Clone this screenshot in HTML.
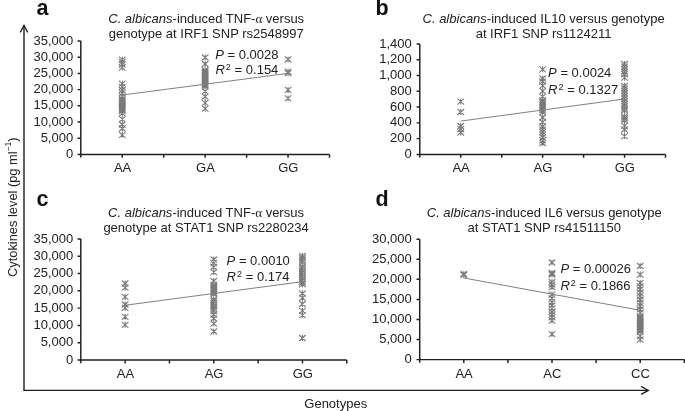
<!DOCTYPE html><html><head><meta charset="utf-8"><style>html,body{margin:0;padding:0;background:#fff;width:685px;height:411px;overflow:hidden}svg{display:block;filter:grayscale(1)}text{font-family:"Liberation Sans",sans-serif}</style></head><body>
<svg width="685" height="411" viewBox="0 0 685 411">
<rect width="685" height="411" fill="#fff"/>
<path d="M24 25.3V390.4H648.3" fill="none" stroke="#1e1e1e" stroke-width="1.4"/>
<path d="M20.3 32.4L24 25.3L27.7 32.4" fill="none" stroke="#1e1e1e" stroke-width="1.3" stroke-linejoin="miter"/>
<path d="M641.1 386.4L648.4 390.4L641.1 394.4" fill="none" stroke="#1e1e1e" stroke-width="1.3"/>
<text x="304.3" y="408.0" font-size="13" fill="#222">Genotypes</text>
<text transform="translate(16.6 277.0) rotate(-90)" font-size="12.85" fill="#222">Cytokines level (pg ml<tspan font-size="8.5" dy="-5.2">−1</tspan><tspan dy="5.2">)</tspan></text>
<path d="M80.80 41.00V157.60M77.60 154.40H329.50M77.60 154.40H80.80M77.60 138.20H80.80M77.60 122.00H80.80M77.60 105.80H80.80M77.60 89.60H80.80M77.60 73.40H80.80M77.60 57.20H80.80M77.60 41.00H80.80M122.25 154.40V157.80M163.70 154.40V157.80M205.15 154.40V157.80M246.60 154.40V157.80M288.05 154.40V157.80M329.50 154.40V157.80" fill="none" stroke="#1e1e1e" stroke-width="1.45"/>
<text x="73.20" y="158.00" font-size="13" text-anchor="end" fill="#222">0</text>
<text x="73.20" y="141.80" font-size="13" text-anchor="end" fill="#222">5,000</text>
<text x="73.20" y="125.60" font-size="13" text-anchor="end" fill="#222">10,000</text>
<text x="73.20" y="109.40" font-size="13" text-anchor="end" fill="#222">15,000</text>
<text x="73.20" y="93.20" font-size="13" text-anchor="end" fill="#222">20,000</text>
<text x="73.20" y="77.00" font-size="13" text-anchor="end" fill="#222">25,000</text>
<text x="73.20" y="60.80" font-size="13" text-anchor="end" fill="#222">30,000</text>
<text x="73.20" y="44.60" font-size="13" text-anchor="end" fill="#222">35,000</text>
<text x="122.55" y="172.30" font-size="13" text-anchor="middle" fill="#222">AA</text>
<text x="205.45" y="172.30" font-size="13" text-anchor="middle" fill="#222">GA</text>
<text x="288.35" y="172.30" font-size="13" text-anchor="middle" fill="#222">GG</text>
<text x="36.60" y="15.30" font-size="21.5" font-weight="bold" fill="#111">a</text>
<text x="206.20" y="22.60" font-size="13" text-anchor="middle" fill="#222"><tspan font-style="italic">C. albicans</tspan>-induced TNF-<tspan style="font-family:Liberation Serif">α</tspan> versus</text>
<text x="206.20" y="38.10" font-size="13" text-anchor="middle" fill="#222">genotype at IRF1 SNP rs2548997</text>
<text x="215.20" y="58.70" font-size="13" fill="#222" xml:space="preserve"><tspan font-style="italic">P</tspan> = 0.0028</text>
<text x="215.40" y="73.60" font-size="13" fill="#222" font-style="italic">R</text>
<text x="225.80" y="69.60" font-size="9" fill="#222">2</text>
<text x="231.00" y="73.60" font-size="13" fill="#222" xml:space="preserve"> = 0.154</text>
<path d="M118.95 56.60L125.55 62.60M125.55 56.60L118.95 62.60M122.25 56.60L122.25 62.60M118.95 59.00L125.55 65.00M125.55 59.00L118.95 65.00M122.25 59.00L122.25 65.00M118.95 61.50L125.55 67.50M125.55 61.50L118.95 67.50M122.25 61.50L122.25 67.50M118.95 64.60L125.55 70.60M125.55 64.60L118.95 70.60M122.25 64.60L122.25 70.60M118.95 80.60L125.55 86.60M125.55 80.60L118.95 86.60M122.25 80.60L122.25 86.60M118.95 83.80L125.55 89.80M125.55 83.80L118.95 89.80M122.25 83.80L122.25 89.80M118.95 87.00L125.55 93.00M125.55 87.00L118.95 93.00M122.25 87.00L122.25 93.00M118.95 90.20L125.55 96.20M125.55 90.20L118.95 96.20M122.25 90.20L122.25 96.20M118.95 93.40L125.55 99.40M125.55 93.40L118.95 99.40M122.25 93.40L122.25 99.40M118.95 96.00L125.55 102.00M125.55 96.00L118.95 102.00M122.25 96.00L122.25 102.00M118.95 97.50L125.55 103.50M125.55 97.50L118.95 103.50M122.25 97.50L122.25 103.50M118.95 99.00L125.55 105.00M125.55 99.00L118.95 105.00M122.25 99.00L122.25 105.00M118.95 100.50L125.55 106.50M125.55 100.50L118.95 106.50M122.25 100.50L122.25 106.50M118.95 102.00L125.55 108.00M125.55 102.00L118.95 108.00M122.25 102.00L122.25 108.00M118.95 103.50L125.55 109.50M125.55 103.50L118.95 109.50M122.25 103.50L122.25 109.50M118.95 105.00L125.55 111.00M125.55 105.00L118.95 111.00M122.25 105.00L122.25 111.00M118.95 106.50L125.55 112.50M125.55 106.50L118.95 112.50M122.25 106.50L122.25 112.50M118.95 108.00L125.55 114.00M125.55 108.00L118.95 114.00M122.25 108.00L122.25 114.00M118.95 110.40L125.55 116.40M125.55 110.40L118.95 116.40M122.25 110.40L122.25 116.40M118.95 116.20L125.55 122.20M125.55 116.20L118.95 122.20M122.25 116.20L122.25 122.20M118.95 121.50L125.55 127.50M125.55 121.50L118.95 127.50M122.25 121.50L122.25 127.50M118.95 125.50L125.55 131.50M125.55 125.50L118.95 131.50M122.25 125.50L122.25 131.50M118.95 131.80L125.55 137.80M125.55 131.80L118.95 137.80M122.25 131.80L122.25 137.80M201.85 54.50L208.45 60.50M208.45 54.50L201.85 60.50M205.15 54.50L205.15 60.50M201.85 61.00L208.45 67.00M208.45 61.00L201.85 67.00M205.15 61.00L205.15 67.00M201.85 67.20L208.45 73.20M208.45 67.20L201.85 73.20M205.15 67.20L205.15 73.20M201.85 68.50L208.45 74.50M208.45 68.50L201.85 74.50M205.15 68.50L205.15 74.50M201.85 70.00L208.45 76.00M208.45 70.00L201.85 76.00M205.15 70.00L205.15 76.00M201.85 71.50L208.45 77.50M208.45 71.50L201.85 77.50M205.15 71.50L205.15 77.50M201.85 73.00L208.45 79.00M208.45 73.00L201.85 79.00M205.15 73.00L205.15 79.00M201.85 74.50L208.45 80.50M208.45 74.50L201.85 80.50M205.15 74.50L205.15 80.50M201.85 76.00L208.45 82.00M208.45 76.00L201.85 82.00M205.15 76.00L205.15 82.00M201.85 77.50L208.45 83.50M208.45 77.50L201.85 83.50M205.15 77.50L205.15 83.50M201.85 79.00L208.45 85.00M208.45 79.00L201.85 85.00M205.15 79.00L205.15 85.00M201.85 80.50L208.45 86.50M208.45 80.50L201.85 86.50M205.15 80.50L205.15 86.50M201.85 82.00L208.45 88.00M208.45 82.00L201.85 88.00M205.15 82.00L205.15 88.00M201.85 83.70L208.45 89.70M208.45 83.70L201.85 89.70M205.15 83.70L205.15 89.70M201.85 88.30L208.45 94.30M208.45 88.30L201.85 94.30M205.15 88.30L205.15 94.30M201.85 93.70L208.45 99.70M208.45 93.70L201.85 99.70M205.15 93.70L205.15 99.70M201.85 99.80L208.45 105.80M208.45 99.80L201.85 105.80M205.15 99.80L205.15 105.80M201.85 105.70L208.45 111.70M208.45 105.70L201.85 111.70M205.15 105.70L205.15 111.70M284.75 56.50L291.35 62.50M291.35 56.50L284.75 62.50M288.05 56.50L288.05 62.50M284.75 68.60L291.35 74.60M291.35 68.60L284.75 74.60M288.05 68.60L288.05 74.60M284.75 70.20L291.35 76.20M291.35 70.20L284.75 76.20M288.05 70.20L288.05 76.20M284.75 86.90L291.35 92.90M291.35 86.90L284.75 92.90M288.05 86.90L288.05 92.90M284.75 95.40L291.35 101.40M291.35 95.40L284.75 101.40M288.05 95.40L288.05 101.40" fill="none" stroke="#7a7a7a" stroke-width="1.05"/>
<path d="M122.20 95.00L288.10 73.40" stroke="#808080" stroke-width="1"/>
<path d="M419.80 44.01V157.60M416.60 154.40H665.50M416.60 154.40H419.80M416.60 138.63H419.80M416.60 122.86H419.80M416.60 107.09H419.80M416.60 91.32H419.80M416.60 75.55H419.80M416.60 59.78H419.80M416.60 44.01H419.80M460.75 154.40V157.80M501.70 154.40V157.80M542.65 154.40V157.80M583.60 154.40V157.80M624.55 154.40V157.80M665.50 154.40V157.80" fill="none" stroke="#1e1e1e" stroke-width="1.45"/>
<text x="411.80" y="158.00" font-size="13" text-anchor="end" fill="#222">0</text>
<text x="411.80" y="142.23" font-size="13" text-anchor="end" fill="#222">200</text>
<text x="411.80" y="126.46" font-size="13" text-anchor="end" fill="#222">400</text>
<text x="411.80" y="110.69" font-size="13" text-anchor="end" fill="#222">600</text>
<text x="411.80" y="94.92" font-size="13" text-anchor="end" fill="#222">800</text>
<text x="411.80" y="79.15" font-size="13" text-anchor="end" fill="#222">1,000</text>
<text x="411.80" y="63.38" font-size="13" text-anchor="end" fill="#222">1,200</text>
<text x="411.80" y="47.61" font-size="13" text-anchor="end" fill="#222">1,400</text>
<text x="461.05" y="172.30" font-size="13" text-anchor="middle" fill="#222">AA</text>
<text x="542.95" y="172.30" font-size="13" text-anchor="middle" fill="#222">AG</text>
<text x="624.85" y="172.30" font-size="13" text-anchor="middle" fill="#222">GG</text>
<text x="375.50" y="15.30" font-size="21.5" font-weight="bold" fill="#111">b</text>
<text x="543.60" y="22.70" font-size="13" text-anchor="middle" fill="#222"><tspan font-style="italic">C. albicans</tspan>-induced IL10 versus genotype</text>
<text x="543.60" y="37.90" font-size="13" text-anchor="middle" fill="#222">at IRF1 SNP rs1124211</text>
<text x="548.10" y="77.30" font-size="13" fill="#222" xml:space="preserve"><tspan font-style="italic">P</tspan> = 0.0024</text>
<text x="548.10" y="93.60" font-size="13" fill="#222" font-style="italic">R</text>
<text x="558.50" y="89.60" font-size="9" fill="#222">2</text>
<text x="563.70" y="93.60" font-size="13" fill="#222" xml:space="preserve"> = 0.1327</text>
<path d="M457.45 98.60L464.05 104.60M464.05 98.60L457.45 104.60M460.75 98.60L460.75 104.60M457.45 109.00L464.05 115.00M464.05 109.00L457.45 115.00M460.75 109.00L460.75 115.00M457.45 123.00L464.05 129.00M464.05 123.00L457.45 129.00M460.75 123.00L460.75 129.00M457.45 126.00L464.05 132.00M464.05 126.00L457.45 132.00M460.75 126.00L460.75 132.00M457.45 129.50L464.05 135.50M464.05 129.50L457.45 135.50M460.75 129.50L460.75 135.50M539.35 66.30L545.95 72.30M545.95 66.30L539.35 72.30M542.65 66.30L542.65 72.30M539.35 75.50L545.95 81.50M545.95 75.50L539.35 81.50M542.65 75.50L542.65 81.50M539.35 78.50L545.95 84.50M545.95 78.50L539.35 84.50M542.65 78.50L542.65 84.50M539.35 82.70L545.95 88.70M545.95 82.70L539.35 88.70M542.65 82.70L542.65 88.70M539.35 88.20L545.95 94.20M545.95 88.20L539.35 94.20M542.65 88.20L542.65 94.20M539.35 93.70L545.95 99.70M545.95 93.70L539.35 99.70M542.65 93.70L542.65 99.70M539.35 97.30L545.95 103.30M545.95 97.30L539.35 103.30M542.65 97.30L542.65 103.30M539.35 99.00L545.95 105.00M545.95 99.00L539.35 105.00M542.65 99.00L542.65 105.00M539.35 100.70L545.95 106.70M545.95 100.70L539.35 106.70M542.65 100.70L542.65 106.70M539.35 102.40L545.95 108.40M545.95 102.40L539.35 108.40M542.65 102.40L542.65 108.40M539.35 104.00L545.95 110.00M545.95 104.00L539.35 110.00M542.65 104.00L542.65 110.00M539.35 105.70L545.95 111.70M545.95 105.70L539.35 111.70M542.65 105.70L542.65 111.70M539.35 107.40L545.95 113.40M545.95 107.40L539.35 113.40M542.65 107.40L542.65 113.40M539.35 109.40L545.95 115.40M545.95 109.40L539.35 115.40M542.65 109.40L542.65 115.40M539.35 114.50L545.95 120.50M545.95 114.50L539.35 120.50M542.65 114.50L542.65 120.50M539.35 119.20L545.95 125.20M545.95 119.20L539.35 125.20M542.65 119.20L542.65 125.20M539.35 123.50L545.95 129.50M545.95 123.50L539.35 129.50M542.65 123.50L542.65 129.50M539.35 126.30L545.95 132.30M545.95 126.30L539.35 132.30M542.65 126.30L542.65 132.30M539.35 129.00L545.95 135.00M545.95 129.00L539.35 135.00M542.65 129.00L542.65 135.00M539.35 131.80L545.95 137.80M545.95 131.80L539.35 137.80M542.65 131.80L542.65 137.80M539.35 134.60L545.95 140.60M545.95 134.60L539.35 140.60M542.65 134.60L542.65 140.60M539.35 137.40L545.95 143.40M545.95 137.40L539.35 143.40M542.65 137.40L542.65 143.40M539.35 140.00L545.95 146.00M545.95 140.00L539.35 146.00M542.65 140.00L542.65 146.00M621.25 61.00L627.85 67.00M627.85 61.00L621.25 67.00M624.55 61.00L624.55 67.00M621.25 63.50L627.85 69.50M627.85 63.50L621.25 69.50M624.55 63.50L624.55 69.50M621.25 66.00L627.85 72.00M627.85 66.00L621.25 72.00M624.55 66.00L624.55 72.00M621.25 68.50L627.85 74.50M627.85 68.50L621.25 74.50M624.55 68.50L624.55 74.50M621.25 71.00L627.85 77.00M627.85 71.00L621.25 77.00M624.55 71.00L624.55 77.00M621.25 74.70L627.85 80.70M627.85 74.70L621.25 80.70M624.55 74.70L624.55 80.70M621.25 83.00L627.85 89.00M627.85 83.00L621.25 89.00M624.55 83.00L624.55 89.00M621.25 85.50L627.85 91.50M627.85 85.50L621.25 91.50M624.55 85.50L624.55 91.50M621.25 88.00L627.85 94.00M627.85 88.00L621.25 94.00M624.55 88.00L624.55 94.00M621.25 90.50L627.85 96.50M627.85 90.50L621.25 96.50M624.55 90.50L624.55 96.50M621.25 93.00L627.85 99.00M627.85 93.00L621.25 99.00M624.55 93.00L624.55 99.00M621.25 95.50L627.85 101.50M627.85 95.50L621.25 101.50M624.55 95.50L624.55 101.50M621.25 98.00L627.85 104.00M627.85 98.00L621.25 104.00M624.55 98.00L624.55 104.00M621.25 100.50L627.85 106.50M627.85 100.50L621.25 106.50M624.55 100.50L624.55 106.50M621.25 103.00L627.85 109.00M627.85 103.00L621.25 109.00M624.55 103.00L624.55 109.00M621.25 105.50L627.85 111.50M627.85 105.50L621.25 111.50M624.55 105.50L624.55 111.50M621.25 107.50L627.85 113.50M627.85 107.50L621.25 113.50M624.55 107.50L624.55 113.50M621.25 113.50L627.85 119.50M627.85 113.50L621.25 119.50M624.55 113.50L624.55 119.50M621.25 115.50L627.85 121.50M627.85 115.50L621.25 121.50M624.55 115.50L624.55 121.50M621.25 117.50L627.85 123.50M627.85 117.50L621.25 123.50M624.55 117.50L624.55 123.50M621.25 122.90L627.85 128.90M627.85 122.90L621.25 128.90M624.55 122.90L624.55 128.90M621.25 126.50L627.85 132.50M627.85 126.50L621.25 132.50M624.55 126.50L624.55 132.50M621.25 133.10L627.85 139.10M627.85 133.10L621.25 139.10M624.55 133.10L624.55 139.10" fill="none" stroke="#7a7a7a" stroke-width="1.05"/>
<path d="M460.60 121.10L624.30 99.00" stroke="#808080" stroke-width="1"/>
<path d="M80.80 238.90V363.20M77.60 360.00H346.78M77.60 360.00H80.80M77.60 342.70H80.80M77.60 325.40H80.80M77.60 308.10H80.80M77.60 290.80H80.80M77.60 273.50H80.80M77.60 256.20H80.80M77.60 238.90H80.80M125.13 360.00V363.40M169.46 360.00V363.40M213.79 360.00V363.40M258.12 360.00V363.40M302.45 360.00V363.40M346.78 360.00V363.40" fill="none" stroke="#1e1e1e" stroke-width="1.45"/>
<text x="73.20" y="363.60" font-size="13" text-anchor="end" fill="#222">0</text>
<text x="73.20" y="346.30" font-size="13" text-anchor="end" fill="#222">5,000</text>
<text x="73.20" y="329.00" font-size="13" text-anchor="end" fill="#222">10,000</text>
<text x="73.20" y="311.70" font-size="13" text-anchor="end" fill="#222">15,000</text>
<text x="73.20" y="294.40" font-size="13" text-anchor="end" fill="#222">20,000</text>
<text x="73.20" y="277.10" font-size="13" text-anchor="end" fill="#222">25,000</text>
<text x="73.20" y="259.80" font-size="13" text-anchor="end" fill="#222">30,000</text>
<text x="73.20" y="242.50" font-size="13" text-anchor="end" fill="#222">35,000</text>
<text x="125.43" y="378.40" font-size="13" text-anchor="middle" fill="#222">AA</text>
<text x="214.09" y="378.40" font-size="13" text-anchor="middle" fill="#222">AG</text>
<text x="302.75" y="378.40" font-size="13" text-anchor="middle" fill="#222">GG</text>
<text x="36.40" y="206.20" font-size="21.5" font-weight="bold" fill="#111">c</text>
<text x="206.00" y="216.80" font-size="13" text-anchor="middle" fill="#222"><tspan font-style="italic">C. albicans</tspan>-induced TNF-<tspan style="font-family:Liberation Serif">α</tspan> versus</text>
<text x="206.00" y="231.50" font-size="13" text-anchor="middle" fill="#222">genotype at STAT1 SNP rs2280234</text>
<text x="226.60" y="264.90" font-size="13" fill="#222" xml:space="preserve"><tspan font-style="italic">P</tspan> = 0.0010</text>
<text x="226.60" y="281.40" font-size="13" fill="#222" font-style="italic">R</text>
<text x="237.00" y="277.40" font-size="9" fill="#222">2</text>
<text x="242.20" y="281.40" font-size="13" fill="#222" xml:space="preserve"> = 0.174</text>
<path d="M121.83 280.50L128.43 286.50M128.43 280.50L121.83 286.50M125.13 280.50L125.13 286.50M121.83 284.70L128.43 290.70M128.43 284.70L121.83 290.70M125.13 284.70L125.13 290.70M121.83 293.90L128.43 299.90M128.43 293.90L121.83 299.90M125.13 293.90L125.13 299.90M121.83 301.50L128.43 307.50M128.43 301.50L121.83 307.50M125.13 301.50L125.13 307.50M121.83 304.80L128.43 310.80M128.43 304.80L121.83 310.80M125.13 304.80L125.13 310.80M121.83 313.80L128.43 319.80M128.43 313.80L121.83 319.80M125.13 313.80L125.13 319.80M121.83 321.80L128.43 327.80M128.43 321.80L121.83 327.80M125.13 321.80L125.13 327.80M210.49 256.50L217.09 262.50M217.09 256.50L210.49 262.50M213.79 256.50L213.79 262.50M210.49 260.00L217.09 266.00M217.09 260.00L210.49 266.00M213.79 260.00L213.79 266.00M210.49 264.00L217.09 270.00M217.09 264.00L210.49 270.00M213.79 264.00L213.79 270.00M210.49 269.20L217.09 275.20M217.09 269.20L210.49 275.20M213.79 269.20L213.79 275.20M210.49 278.00L217.09 284.00M217.09 278.00L210.49 284.00M213.79 278.00L213.79 284.00M210.49 282.00L217.09 288.00M217.09 282.00L210.49 288.00M213.79 282.00L213.79 288.00M210.49 283.50L217.09 289.50M217.09 283.50L210.49 289.50M213.79 283.50L213.79 289.50M210.49 285.00L217.09 291.00M217.09 285.00L210.49 291.00M213.79 285.00L213.79 291.00M210.49 286.50L217.09 292.50M217.09 286.50L210.49 292.50M213.79 286.50L213.79 292.50M210.49 288.00L217.09 294.00M217.09 288.00L210.49 294.00M213.79 288.00L213.79 294.00M210.49 289.50L217.09 295.50M217.09 289.50L210.49 295.50M213.79 289.50L213.79 295.50M210.49 291.00L217.09 297.00M217.09 291.00L210.49 297.00M213.79 291.00L213.79 297.00M210.49 296.30L217.09 302.30M217.09 296.30L210.49 302.30M213.79 296.30L213.79 302.30M210.49 298.00L217.09 304.00M217.09 298.00L210.49 304.00M213.79 298.00L213.79 304.00M210.49 300.00L217.09 306.00M217.09 300.00L210.49 306.00M213.79 300.00L213.79 306.00M210.49 302.00L217.09 308.00M217.09 302.00L210.49 308.00M213.79 302.00L213.79 308.00M210.49 304.00L217.09 310.00M217.09 304.00L210.49 310.00M213.79 304.00L213.79 310.00M210.49 306.00L217.09 312.00M217.09 306.00L210.49 312.00M213.79 306.00L213.79 312.00M210.49 308.00L217.09 314.00M217.09 308.00L210.49 314.00M213.79 308.00L213.79 314.00M210.49 311.50L217.09 317.50M217.09 311.50L210.49 317.50M213.79 311.50L213.79 317.50M210.49 315.50L217.09 321.50M217.09 315.50L210.49 321.50M213.79 315.50L213.79 321.50M210.49 320.60L217.09 326.60M217.09 320.60L210.49 326.60M213.79 320.60L213.79 326.60M210.49 328.50L217.09 334.50M217.09 328.50L210.49 334.50M213.79 328.50L213.79 334.50M299.15 253.00L305.75 259.00M305.75 253.00L299.15 259.00M302.45 253.00L302.45 259.00M299.15 255.00L305.75 261.00M305.75 255.00L299.15 261.00M302.45 255.00L302.45 261.00M299.15 257.00L305.75 263.00M305.75 257.00L299.15 263.00M302.45 257.00L302.45 263.00M299.15 259.00L305.75 265.00M305.75 259.00L299.15 265.00M302.45 259.00L302.45 265.00M299.15 263.50L305.75 269.50M305.75 263.50L299.15 269.50M302.45 263.50L302.45 269.50M299.15 265.50L305.75 271.50M305.75 265.50L299.15 271.50M302.45 265.50L302.45 271.50M299.15 267.50L305.75 273.50M305.75 267.50L299.15 273.50M302.45 267.50L302.45 273.50M299.15 269.50L305.75 275.50M305.75 269.50L299.15 275.50M302.45 269.50L302.45 275.50M299.15 271.50L305.75 277.50M305.75 271.50L299.15 277.50M302.45 271.50L302.45 277.50M299.15 273.50L305.75 279.50M305.75 273.50L299.15 279.50M302.45 273.50L302.45 279.50M299.15 275.50L305.75 281.50M305.75 275.50L299.15 281.50M302.45 275.50L302.45 281.50M299.15 277.50L305.75 283.50M305.75 277.50L299.15 283.50M302.45 277.50L302.45 283.50M299.15 279.50L305.75 285.50M305.75 279.50L299.15 285.50M302.45 279.50L302.45 285.50M299.15 281.30L305.75 287.30M305.75 281.30L299.15 287.30M302.45 281.30L302.45 287.30M299.15 290.50L305.75 296.50M305.75 290.50L299.15 296.50M302.45 290.50L302.45 296.50M299.15 294.80L305.75 300.80M305.75 294.80L299.15 300.80M302.45 294.80L302.45 300.80M299.15 301.00L305.75 307.00M305.75 301.00L299.15 307.00M302.45 301.00L302.45 307.00M299.15 307.80L305.75 313.80M305.75 307.80L299.15 313.80M302.45 307.80L302.45 313.80M299.15 312.20L305.75 318.20M305.75 312.20L299.15 318.20M302.45 312.20L302.45 318.20M299.15 335.00L305.75 341.00M305.75 335.00L299.15 341.00M302.45 335.00L302.45 341.00" fill="none" stroke="#7a7a7a" stroke-width="1.05"/>
<path d="M125.70 305.20L302.80 281.60" stroke="#808080" stroke-width="1"/>
<path d="M419.70 239.20V362.80M416.50 359.60H684.30M416.50 359.60H419.70M416.50 339.53H419.70M416.50 319.47H419.70M416.50 299.40H419.70M416.50 279.33H419.70M416.50 259.27H419.70M416.50 239.20H419.70M463.80 359.60V363.00M507.90 359.60V363.00M552.00 359.60V363.00M596.10 359.60V363.00M640.20 359.60V363.00M684.30 359.60V363.00" fill="none" stroke="#1e1e1e" stroke-width="1.45"/>
<text x="411.80" y="363.20" font-size="13" text-anchor="end" fill="#222">0</text>
<text x="411.80" y="343.13" font-size="13" text-anchor="end" fill="#222">5,000</text>
<text x="411.80" y="323.07" font-size="13" text-anchor="end" fill="#222">10,000</text>
<text x="411.80" y="303.00" font-size="13" text-anchor="end" fill="#222">15,000</text>
<text x="411.80" y="282.93" font-size="13" text-anchor="end" fill="#222">20,000</text>
<text x="411.80" y="262.87" font-size="13" text-anchor="end" fill="#222">25,000</text>
<text x="411.80" y="242.80" font-size="13" text-anchor="end" fill="#222">30,000</text>
<text x="464.10" y="378.40" font-size="13" text-anchor="middle" fill="#222">AA</text>
<text x="552.30" y="378.40" font-size="13" text-anchor="middle" fill="#222">AC</text>
<text x="640.50" y="378.40" font-size="13" text-anchor="middle" fill="#222">CC</text>
<text x="375.40" y="205.80" font-size="21.5" font-weight="bold" fill="#111">d</text>
<text x="544.20" y="216.70" font-size="13" text-anchor="middle" fill="#222"><tspan font-style="italic">C. albicans</tspan>-induced IL6 versus genotype</text>
<text x="544.20" y="231.50" font-size="13" text-anchor="middle" fill="#222">at STAT1 SNP rs41511150</text>
<text x="560.40" y="272.80" font-size="13" fill="#222" xml:space="preserve"><tspan font-style="italic">P</tspan> = 0.00026</text>
<text x="560.40" y="289.80" font-size="13" fill="#222" font-style="italic">R</text>
<text x="570.80" y="285.80" font-size="9" fill="#222">2</text>
<text x="576.00" y="289.80" font-size="13" fill="#222" xml:space="preserve"> = 0.1866</text>
<path d="M460.50 271.00L467.10 277.00M467.10 271.00L460.50 277.00M463.80 271.00L463.80 277.00M460.50 272.20L467.10 278.20M467.10 272.20L460.50 278.20M463.80 272.20L463.80 278.20M548.70 259.50L555.30 265.50M555.30 259.50L548.70 265.50M552.00 259.50L552.00 265.50M548.70 270.00L555.30 276.00M555.30 270.00L548.70 276.00M552.00 270.00L552.00 276.00M548.70 271.50L555.30 277.50M555.30 271.50L548.70 277.50M552.00 271.50L552.00 277.50M548.70 279.00L555.30 285.00M555.30 279.00L548.70 285.00M552.00 279.00L552.00 285.00M548.70 281.50L555.30 287.50M555.30 281.50L548.70 287.50M552.00 281.50L552.00 287.50M548.70 284.10L555.30 290.10M555.30 284.10L548.70 290.10M552.00 284.10L552.00 290.10M548.70 291.60L555.30 297.60M555.30 291.60L548.70 297.60M552.00 291.60L552.00 297.60M548.70 295.30L555.30 301.30M555.30 295.30L548.70 301.30M552.00 295.30L552.00 301.30M548.70 299.30L555.30 305.30M555.30 299.30L548.70 305.30M552.00 299.30L552.00 305.30M548.70 302.50L555.30 308.50M555.30 302.50L548.70 308.50M552.00 302.50L552.00 308.50M548.70 305.60L555.30 311.60M555.30 305.60L548.70 311.60M552.00 305.60L552.00 311.60M548.70 309.00L555.30 315.00M555.30 309.00L548.70 315.00M552.00 309.00L552.00 315.00M548.70 311.70L555.30 317.70M555.30 311.70L548.70 317.70M552.00 311.70L552.00 317.70M548.70 314.40L555.30 320.40M555.30 314.40L548.70 320.40M552.00 314.40L552.00 320.40M548.70 317.70L555.30 323.70M555.30 317.70L548.70 323.70M552.00 317.70L552.00 323.70M548.70 331.10L555.30 337.10M555.30 331.10L548.70 337.10M552.00 331.10L552.00 337.10M636.90 263.00L643.50 269.00M643.50 263.00L636.90 269.00M640.20 263.00L640.20 269.00M636.90 271.60L643.50 277.60M643.50 271.60L636.90 277.60M640.20 271.60L640.20 277.60M636.90 280.00L643.50 286.00M643.50 280.00L636.90 286.00M640.20 280.00L640.20 286.00M636.90 283.30L643.50 289.30M643.50 283.30L636.90 289.30M640.20 283.30L640.20 289.30M636.90 286.60L643.50 292.60M643.50 286.60L636.90 292.60M640.20 286.60L640.20 292.60M636.90 289.90L643.50 295.90M643.50 289.90L636.90 295.90M640.20 289.90L640.20 295.90M636.90 293.20L643.50 299.20M643.50 293.20L636.90 299.20M640.20 293.20L640.20 299.20M636.90 296.50L643.50 302.50M643.50 296.50L636.90 302.50M640.20 296.50L640.20 302.50M636.90 299.80L643.50 305.80M643.50 299.80L636.90 305.80M640.20 299.80L640.20 305.80M636.90 303.10L643.50 309.10M643.50 303.10L636.90 309.10M640.20 303.10L640.20 309.10M636.90 306.40L643.50 312.40M643.50 306.40L636.90 312.40M640.20 306.40L640.20 312.40M636.90 309.70L643.50 315.70M643.50 309.70L636.90 315.70M640.20 309.70L640.20 315.70M636.90 313.50L643.50 319.50M643.50 313.50L636.90 319.50M640.20 313.50L640.20 319.50M636.90 315.00L643.50 321.00M643.50 315.00L636.90 321.00M640.20 315.00L640.20 321.00M636.90 316.50L643.50 322.50M643.50 316.50L636.90 322.50M640.20 316.50L640.20 322.50M636.90 318.00L643.50 324.00M643.50 318.00L636.90 324.00M640.20 318.00L640.20 324.00M636.90 319.50L643.50 325.50M643.50 319.50L636.90 325.50M640.20 319.50L640.20 325.50M636.90 321.00L643.50 327.00M643.50 321.00L636.90 327.00M640.20 321.00L640.20 327.00M636.90 322.50L643.50 328.50M643.50 322.50L636.90 328.50M640.20 322.50L640.20 328.50M636.90 324.00L643.50 330.00M643.50 324.00L636.90 330.00M640.20 324.00L640.20 330.00M636.90 325.50L643.50 331.50M643.50 325.50L636.90 331.50M640.20 325.50L640.20 331.50M636.90 327.00L643.50 333.00M643.50 327.00L636.90 333.00M640.20 327.00L640.20 333.00M636.90 328.50L643.50 334.50M643.50 328.50L636.90 334.50M640.20 328.50L640.20 334.50M636.90 333.10L643.50 339.10M643.50 333.10L636.90 339.10M640.20 333.10L640.20 339.10M636.90 336.70L643.50 342.70M643.50 336.70L636.90 342.70M640.20 336.70L640.20 342.70" fill="none" stroke="#7a7a7a" stroke-width="1.05"/>
<path d="M464.00 278.00L640.30 310.30" stroke="#808080" stroke-width="1"/>
</svg></body></html>
